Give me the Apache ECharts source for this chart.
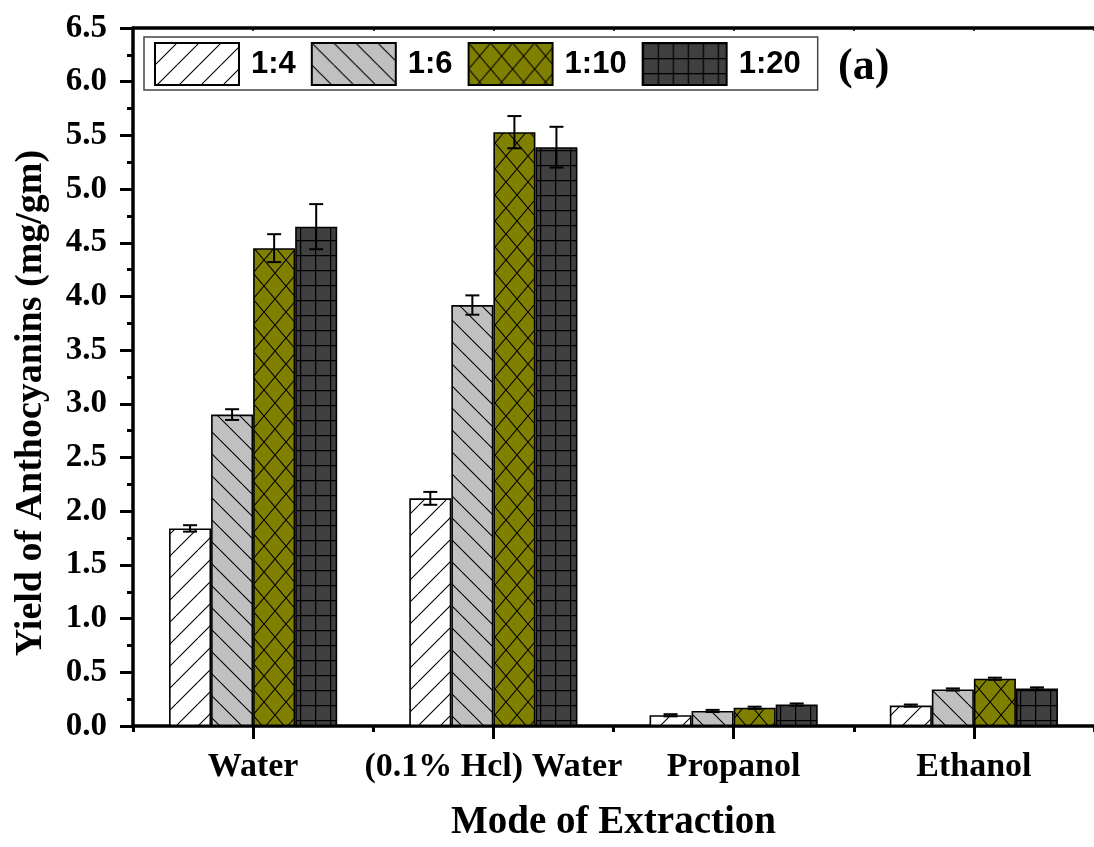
<!DOCTYPE html>
<html>
<head>
<meta charset="utf-8">
<script src="https://cdn.jsdelivr.net/npm/echarts@6/dist/echarts.min.js"></script>
<style>
html,body{margin:0;padding:0;background:#fff;overflow:hidden;}
#chart{width:1094px;height:847px;}
</style>
</head>
<body>
<div id="chart"></div>
<script>
// ---- data ----
const categories = ['Water', '(0.1% Hcl) Water', 'Propanol', 'Ethanol'];
const seriesNames = ['1:4', '1:6', '1:10', '1:20'];
const yield14 = [1.84, 2.12, 0.10, 0.19];
const yield16 = [2.90, 3.92, 0.14, 0.34];
const yield110 = [4.45, 5.53, 0.17, 0.44];
const yield120 = [4.65, 5.39, 0.20, 0.35];
const err14 = [0.03, 0.06, 0.01, 0.01];
const err16 = [0.05, 0.09, 0.01, 0.01];
const err110 = [0.13, 0.15, 0.01, 0.01];
const err120 = [0.21, 0.19, 0.01, 0.01];
const yTicks = [0, 0.5, 1, 1.5, 2, 2.5, 3, 3.5, 4, 4.5, 5, 5.5, 6, 6.5];

const values = [yield14, yield16, yield110, yield120];
const errors = [err14, err16, err110, err120];

// ---- patterns ----
function makePattern(w, h, bg, draw) {
  const c = document.createElement('canvas');
  c.width = w; c.height = h;
  const ctx = c.getContext('2d');
  ctx.fillStyle = bg; ctx.fillRect(0, 0, w, h);
  ctx.strokeStyle = '#000';
  draw(ctx, w, h);
  return { image: c, repeat: 'repeat' };
}
function fwd(ctx, w, h) { // "/"
  ctx.lineWidth = 1.1;
  ctx.beginPath();
  for (let k = -1; k <= 1; k++) { ctx.moveTo(k * w, h); ctx.lineTo(k * w + w, 0); }
  ctx.stroke();
}
function back(ctx, w, h) { // "\"
  ctx.lineWidth = 1.1;
  ctx.beginPath();
  for (let k = -1; k <= 1; k++) { ctx.moveTo(k * w, 0); ctx.lineTo(k * w + w, h); }
  ctx.stroke();
}
const patterns = [
  makePattern(22, 22, '#ffffff', fwd),
  makePattern(22, 22, '#c0c0c0', back),
  makePattern(22, 26, '#808000', function (ctx, w, h) { fwd(ctx, w, h); back(ctx, w, h); }),
  makePattern(15, 15, '#404040', function (ctx, w, h) {
    ctx.lineWidth = 1.5;
    ctx.beginPath();
    ctx.moveTo(0.5, 0); ctx.lineTo(0.5, h);
    ctx.moveTo(0, 0.5); ctx.lineTo(w, 0.5);
    ctx.stroke();
  })
];

const NB = seriesNames.length;
const GAP = 0.3;

const barSeries = seriesNames.map(function (name, i) {
  return {
    name: name,
    type: 'bar',
    xAxisIndex: 0,
    barGap: '0%',
    barCategoryGap: (GAP * 100) + '%',
    data: values[i],
    itemStyle: { color: patterns[i], borderColor: '#000', borderWidth: 1.6 },
    emphasis: { disabled: true },
    z: 2
  };
});

const errSeries = seriesNames.map(function (name, i) {
  return {
    name: name + ' err',
    type: 'custom',
    xAxisIndex: 0,
    data: categories.map(function (c, k) { return [k, values[i][k], errors[i][k]]; }),
    encode: { x: 0, y: 1 },
    z: 5,
    renderItem: function (params, api) {
      const cat = api.value(0), v = api.value(1), e = api.value(2);
      const band = api.size([1, 0])[0];
      const bw = band * (1 - GAP) / NB;
      const off = (i - (NB - 1) / 2) * bw;
      const top = api.coord([cat, v + e]);
      const bot = api.coord([cat, v - e]);
      const x = top[0] + off;
      const cap = 7;
      const st = { stroke: '#000', lineWidth: 2 };
      return {
        type: 'group',
        children: [
          { type: 'line', shape: { x1: x, y1: top[1], x2: x, y2: bot[1] }, style: st },
          { type: 'line', shape: { x1: x - cap, y1: top[1], x2: x + cap, y2: top[1] }, style: st },
          { type: 'line', shape: { x1: x - cap, y1: bot[1], x2: x + cap, y2: bot[1] }, style: st }
        ]
      };
    }
  };
});

const serif = 'Liberation Serif, Times New Roman, serif';

const chart = echarts.init(document.getElementById('chart'), null, { renderer: 'canvas', width: 1094, height: 847 });
chart.setOption({
  backgroundColor: '#fff',
  animation: false,
  grid: { left: 133, top: 28, width: 968, height: 710, containLabel: false },
  legend: {
    data: seriesNames,
    left: 144, top: 37,
    orient: 'horizontal',
    itemWidth: 84, itemHeight: 42, itemGap: 15,
    padding: [5, 17, 4, 10],
    borderColor: '#444', borderWidth: 1.5,
    icon: 'rect',
    selectedMode: false,
    textStyle: { fontFamily: 'Liberation Sans, Arial, sans-serif', fontWeight: 'bold', fontSize: 31, color: '#000', padding: [0, 0, 0, 7] }
  },
  graphic: [{
    type: 'text', left: 838, top: 46,
    style: { text: '(a)', font: 'bold 44px ' + serif, fill: '#000' }
  }],
  xAxis: [{
    type: 'category',
    data: categories,
    position: 'bottom',
    name: 'Mode of Extraction',
    nameLocation: 'middle',
    nameGap: 77,
    nameTextStyle: { fontFamily: serif, fontWeight: 'bold', fontSize: 39, color: '#000' },
    axisLine: { show: true, lineStyle: { color: '#000', width: 3.5 } },
    axisTick: { show: true, alignWithLabel: true, interval: 0, length: 13, lineStyle: { color: '#000', width: 3 } },
    axisLabel: { interval: 0, fontFamily: serif, fontWeight: 'bold', fontSize: 34, color: '#000', margin: 24 },
    splitLine: { show: false }
  }, {
    type: 'category',
    data: categories,
    position: 'bottom',
    axisLine: { show: false },
    axisTick: { show: true, alignWithLabel: false, interval: 0, length: 6, lineStyle: { color: '#000', width: 3 } },
    axisLabel: { show: false },
    splitLine: { show: false }
  }, {
    type: 'value',
    position: 'top',
    min: 0, max: 8, interval: 1,
    axisLine: { show: true, lineStyle: { color: '#000', width: 3.5 } },
    axisTick: { show: true, inside: true, length: 3, lineStyle: { color: '#000', width: 1.5 } },
    axisLabel: { show: false },
    splitLine: { show: false }
  }],
  yAxis: {
    type: 'value',
    min: yTicks[0], max: yTicks[yTicks.length - 1], interval: 0.5,
    name: 'Yield of Anthocyanins (mg/gm)',
    nameLocation: 'middle',
    nameGap: 83,
    nameTextStyle: { fontFamily: serif, fontWeight: 'bold', fontSize: 38, color: '#000', padding: [0, 52, 0, 0] },
    axisLine: { show: true, lineStyle: { color: '#000', width: 3.5 } },
    axisTick: { show: true, length: 13, lineStyle: { color: '#000', width: 3 } },
    minorTick: { show: true, splitNumber: 2, length: 6, lineStyle: { color: '#000', width: 3 } },
    axisLabel: { fontFamily: serif, fontWeight: 'bold', fontSize: 33, color: '#000', margin: 26,
      formatter: function (v) { return v.toFixed(1); } },
    splitLine: { show: false }
  },
  series: barSeries.concat(errSeries)
});
</script>
</body>
</html>
